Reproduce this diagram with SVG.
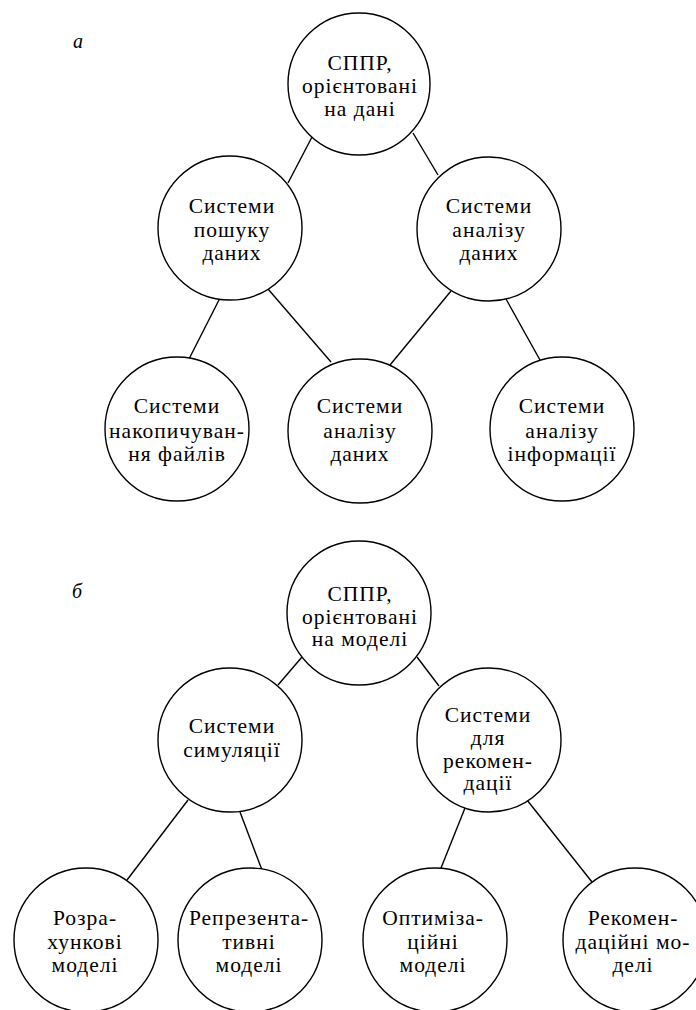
<svg xmlns="http://www.w3.org/2000/svg" width="696" height="1010" viewBox="0 0 696 1010">
<style>
.node circle{fill:#fff;stroke:#000;stroke-width:1.4}
.node text{font-family:"Liberation Serif","Times New Roman",serif;font-size:21.5px;letter-spacing:1px;text-anchor:middle;fill:#000}
.conn line{stroke:#000;stroke-width:1.4}
.lbl{font-family:"Liberation Serif","Times New Roman",serif;font-size:20px;font-style:italic;fill:#000}
</style>
<rect width="696" height="1010" fill="#fff"/>
<text class="lbl" x="73" y="48">а</text>
<text class="lbl" x="72" y="598">б</text>
<g id="connectors" class="conn">
<line x1="312" y1="137" x2="288" y2="183"/>
<line x1="413" y1="133" x2="438" y2="175"/>
<line x1="220" y1="298" x2="189" y2="359"/>
<line x1="268" y1="289" x2="331" y2="362"/>
<line x1="451" y1="291" x2="390" y2="365"/>
<line x1="506" y1="299" x2="540" y2="360"/>
<line x1="302" y1="657" x2="278" y2="685"/>
<line x1="417" y1="657" x2="439" y2="686"/>
<line x1="188" y1="800" x2="127" y2="880"/>
<line x1="240" y1="812" x2="262" y2="870"/>
<line x1="465" y1="808" x2="441" y2="868"/>
<line x1="527" y1="800" x2="592" y2="882"/>
</g>
<g id="a-root" class="node"><circle cx="359" cy="84" r="71"/>
<text x="360" y="70">СППР,</text><text x="360" y="93">орієнтовані</text><text x="360" y="116">на дані</text></g>
<g id="a-search" class="node"><circle cx="230" cy="228" r="72"/>
<text x="232" y="213">Системи</text><text x="232" y="237">пошуку</text><text x="232" y="260">даних</text></g>
<g id="a-analysis" class="node"><circle cx="489" cy="229" r="72"/>
<text x="489" y="213">Системи</text><text x="489" y="237">аналізу</text><text x="489" y="260">даних</text></g>
<g id="a-files" class="node"><circle cx="177" cy="429" r="72"/>
<text x="177" y="413">Системи</text><text x="177" y="438">накопичуван-</text><text x="177" y="461">ня файлів</text></g>
<g id="a-data" class="node"><circle cx="360" cy="431" r="72"/>
<text x="360" y="413">Системи</text><text x="360" y="438">аналізу</text><text x="360" y="461">даних</text></g>
<g id="a-info" class="node"><circle cx="562" cy="429" r="72"/>
<text x="562" y="413">Системи</text><text x="562" y="438">аналізу</text><text x="562" y="461">інформації</text></g>
<g id="b-root" class="node"><circle cx="359" cy="613" r="72"/>
<text x="360" y="601">СППР,</text><text x="360" y="624">орієнтовані</text><text x="360" y="646">на моделі</text></g>
<g id="b-sim" class="node"><circle cx="230" cy="740" r="72"/>
<text x="232" y="733">Системи</text><text x="232" y="757">симуляції</text></g>
<g id="b-rec" class="node"><circle cx="489" cy="740" r="72"/>
<text x="488" y="722">Системи</text><text x="488" y="745">для</text><text x="488" y="768">рекомен-</text><text x="488" y="790">дації</text></g>
<g id="b-calc" class="node"><circle cx="86" cy="940" r="72"/>
<text x="85" y="925">Розра-</text><text x="85" y="949">хункові</text><text x="85" y="972">моделі</text></g>
<g id="b-repr" class="node"><circle cx="250" cy="940" r="72"/>
<text x="249" y="925">Репрезента-</text><text x="249" y="949">тивні</text><text x="249" y="972">моделі</text></g>
<g id="b-opt" class="node"><circle cx="435" cy="940" r="72"/>
<text x="433" y="925">Оптиміза-</text><text x="433" y="949">ційні</text><text x="433" y="972">моделі</text></g>
<g id="b-recm" class="node"><circle cx="635" cy="940" r="72"/>
<text x="633" y="925">Рекомен-</text><text x="633" y="949">даційні мо-</text><text x="633" y="972">делі</text></g>
</svg>
